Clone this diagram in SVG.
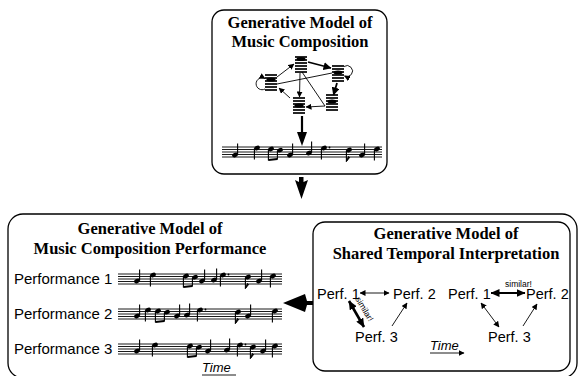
<svg xmlns="http://www.w3.org/2000/svg" xmlns:xlink="http://www.w3.org/1999/xlink" width="579" height="376" viewBox="0 0 579 376">
<style>
.box{fill:#fff;stroke:#000;stroke-width:1.3}
.ttl{font-family:"Liberation Serif","Times New Roman",serif;font-weight:bold;font-size:16.5px;text-anchor:middle;fill:#000}
.lbl{font-family:"Liberation Sans",Arial,sans-serif;font-size:15px;fill:#000}
.perf{font-family:"Liberation Sans",Arial,sans-serif;font-size:14.5px;fill:#000}
.sm{font-family:"Liberation Sans",Arial,sans-serif;font-size:8.5px;fill:#000}
.time{font-family:"Liberation Sans",Arial,sans-serif;font-size:13px;font-style:italic;fill:#000}
.st{stroke:#000;stroke-width:0.9}
.stem{stroke:#000;stroke-width:1.1}
.nl{stroke:#000;stroke-width:1.7}
.c{stroke:#000;stroke-width:0.9;fill:none}
.ck{stroke:#000;stroke-width:1.8;fill:none}
.cb{stroke:#000;stroke-width:2.6;fill:none}
</style>
<defs>
<marker id="ah" markerWidth="6" markerHeight="6" refX="5.5" refY="3" orient="auto" markerUnits="userSpaceOnUse"><path d="M0,0 L6,3 L0,6 Z" fill="#000"/></marker>
<marker id="ahs" markerWidth="6" markerHeight="6" refX="0.5" refY="3" orient="auto" markerUnits="userSpaceOnUse"><path d="M6,0 L0,3 L6,6 Z" fill="#000"/></marker>
<marker id="ahk" markerWidth="8" markerHeight="8" refX="7.5" refY="4" orient="auto" markerUnits="userSpaceOnUse"><path d="M0,0 L8,4 L0,8 Z" fill="#000"/></marker>
<marker id="ahb" markerWidth="9" markerHeight="8" refX="8.5" refY="4" orient="auto" markerUnits="userSpaceOnUse"><path d="M0,0 L9,4 L0,8 Z" fill="#000"/></marker>
<marker id="ahbs" markerWidth="9" markerHeight="8" refX="0.5" refY="4" orient="auto" markerUnits="userSpaceOnUse"><path d="M9,0 L0,4 L9,8 Z" fill="#000"/></marker>
<g id="staffT"><line class="st" x1="0" y1="0" x2="160" y2="0"/><line class="st" x1="0" y1="2.5" x2="160" y2="2.5"/><line class="st" x1="0" y1="5" x2="160" y2="5"/><line class="st" x1="0" y1="7.5" x2="160" y2="7.5"/><line class="st" x1="0" y1="10" x2="160" y2="10"/></g>
<g id="staffP"><line class="st" x1="0" y1="0" x2="164" y2="0"/><line class="st" x1="0" y1="2.5" x2="164" y2="2.5"/><line class="st" x1="0" y1="5" x2="164" y2="5"/><line class="st" x1="0" y1="7.5" x2="164" y2="7.5"/><line class="st" x1="0" y1="10" x2="164" y2="10"/></g>
<g id="qu"><ellipse cx="0" cy="0" rx="3" ry="2.1" transform="rotate(-25)"/><line class="stem" x1="2.6" y1="-0.5" x2="2.6" y2="-11.5"/></g>
<g id="qd"><ellipse cx="0" cy="0" rx="3" ry="2.1" transform="rotate(-25)"/><line class="stem" x1="-2.6" y1="0.5" x2="-2.6" y2="11.5"/></g>
<g id="e2"><ellipse cx="0" cy="0" rx="3" ry="2.1" transform="rotate(-25)"/><ellipse cx="9" cy="1.2" rx="3" ry="2.1" transform="rotate(-25 9 1.2)"/><line class="stem" x1="-2.6" y1="0.5" x2="-2.6" y2="11.5"/><line class="stem" x1="6.4" y1="1.7" x2="6.4" y2="10.5"/><line x1="-2.6" y1="11" x2="6.4" y2="10" stroke="#000" stroke-width="2"/></g>
<g id="ef"><ellipse cx="0" cy="0" rx="3" ry="2.1" transform="rotate(-25)"/><line class="stem" x1="-2.6" y1="0.5" x2="-2.6" y2="11.5"/><path d="M-2.6,11.5 L-0.5,6.5 L0.6,7.5 Z" fill="#000" stroke="#000" stroke-width="1"/></g>
<g id="nd"><line class="nl" x1="0" y1="0" x2="12" y2="0"/><line class="nl" x1="0" y1="3" x2="12" y2="3"/><line class="nl" x1="0" y1="6" x2="12" y2="6"/><line class="nl" x1="0" y1="9" x2="12" y2="9"/><line class="nl" x1="0" y1="12" x2="12" y2="12"/><line class="nl" x1="0" y1="15" x2="12" y2="15"/></g>
</defs>
<rect width="579" height="376" fill="#fff"/>

<!-- Top box -->
<g id="composition_model">
<rect class="box" x="212" y="10" width="175" height="164" rx="12"/>
<text class="ttl" x="300" y="28">Generative Model of</text>
<text class="ttl" x="300" y="47">Music Composition</text>
</g>

<g id="node_left"><use xlink:href="#nd" x="265" y="75"/><ellipse cx="271" cy="79.5" rx="4.5" ry="2" fill="#000"/></g>
<g id="node_top"><use xlink:href="#nd" x="295" y="57"/><ellipse cx="301" cy="59" rx="4.5" ry="2" fill="#000"/></g>
<g id="node_right"><use xlink:href="#nd" x="332" y="66"/><ellipse cx="338" cy="72.5" rx="4.5" ry="2" fill="#000"/></g>
<g id="node_bottom_mid"><use xlink:href="#nd" x="293" y="98"/><ellipse cx="299" cy="105.5" rx="4.5" ry="2" fill="#000"/></g>
<g id="node_bottom_right"><use xlink:href="#nd" x="326" y="95"/><ellipse cx="332" cy="101.5" rx="4.5" ry="2" fill="#000"/></g>

<g id="score_top">
<use xlink:href="#staffT" x="222" y="147"/>
<use xlink:href="#qu" x="235" y="155"/>
<use xlink:href="#qd" x="257" y="148"/>
<use xlink:href="#e2" x="271" y="149"/>
<use xlink:href="#qu" x="290" y="155"/>
<use xlink:href="#qu" x="309" y="153"/>
<use xlink:href="#qd" x="324" y="148"/><circle cx="329.5" cy="147.5" r="0.9"/>
<use xlink:href="#ef" x="349" y="150"/>
<use xlink:href="#qu" x="362" y="155"/>
<use xlink:href="#qd" x="377" y="149"/>
</g>

<!-- Bottom box -->
<g id="performance_model">
<rect class="box" x="8" y="214" width="569" height="164" rx="15"/>
<text class="ttl" x="150" y="234">Generative Model of</text>
<text class="ttl" x="150" y="254">Music Composition Performance</text>
</g>

<g id="performance1">
<text class="lbl" x="14" y="284">Performance 1</text>
<use xlink:href="#staffP" x="118" y="274"/>
<use xlink:href="#qu" x="137" y="281"/>
<use xlink:href="#qd" x="153" y="275"/>
<use xlink:href="#e2" x="186" y="276"/>
<use xlink:href="#qu" x="202" y="281"/>
<use xlink:href="#qu" x="214" y="280"/>
<use xlink:href="#qd" x="223" y="275"/><circle cx="228.5" cy="274.5" r="0.9"/>
<use xlink:href="#ef" x="248" y="277"/>
<use xlink:href="#qu" x="259" y="281"/>
<use xlink:href="#qd" x="273" y="276"/>
</g>

<g id="performance2">
<text class="lbl" x="14" y="319">Performance 2</text>
<use xlink:href="#staffP" x="118" y="309"/>
<use xlink:href="#qu" x="137" y="316"/>
<use xlink:href="#qd" x="148" y="310"/>
<use xlink:href="#e2" x="158" y="311"/>
<use xlink:href="#qu" x="177" y="316"/>
<use xlink:href="#qu" x="187" y="315"/>
<use xlink:href="#qd" x="200" y="310"/><circle cx="205.5" cy="309.5" r="0.9"/>
<use xlink:href="#ef" x="238" y="312"/>
<use xlink:href="#qu" x="248" y="316"/>
<use xlink:href="#qd" x="275" y="311"/>
</g>

<g id="performance3">
<text class="lbl" x="14" y="354">Performance 3</text>
<use xlink:href="#staffP" x="118" y="344"/>
<use xlink:href="#qu" x="137" y="351"/>
<use xlink:href="#qd" x="155" y="345"/>
<use xlink:href="#e2" x="190" y="346"/>
<use xlink:href="#qu" x="208" y="351"/>
<use xlink:href="#qu" x="227" y="350"/>
<use xlink:href="#qd" x="240" y="345"/><circle cx="245.5" cy="344.5" r="0.9"/>
<use xlink:href="#ef" x="253" y="347"/>
<use xlink:href="#qu" x="263" y="351"/>
<use xlink:href="#qd" x="275" y="346"/>
<text class="time" x="202" y="372">Time</text>
</g>

<!-- Inner box -->
<g id="shared_interpretation_model">
<rect class="box" x="313" y="222" width="257" height="149" rx="12"/>
<text class="ttl" x="446" y="239">Generative Model of</text>
<text class="ttl" x="446" y="259">Shared Temporal Interpretation</text>
<text class="time" x="430" y="350">Time</text>
</g>
<g id="perf1_a"><text class="perf" x="317" y="299">Perf. 1</text></g>
<g id="perf2_a"><text class="perf" x="393" y="299">Perf. 2</text></g>
<g id="perf3_a"><text class="perf" x="355" y="342">Perf. 3</text></g>
<g id="perf1_b"><text class="perf" x="448" y="299">Perf. 1</text></g>
<g id="perf2_b"><text class="perf" x="526" y="299">Perf. 2</text></g>
<g id="perf3_b"><text class="perf" x="488" y="342">Perf. 3</text></g>

<g id="connectors">
<!-- network in top box -->
<line class="c" x1="277" y1="77" x2="294" y2="64" marker-end="url(#ah)"/>
<line class="ck" x1="308" y1="62" x2="331" y2="68" marker-end="url(#ahk)"/>
<line class="c" x1="277" y1="84" x2="332" y2="73"/>
<line class="c" x1="300" y1="73" x2="299.5" y2="97" marker-end="url(#ah)"/>
<line class="c" x1="302" y1="72" x2="325" y2="106"/>
<line class="c" x1="325" y1="106" x2="306" y2="107" marker-end="url(#ah)"/>
<line class="ck" x1="337" y1="83" x2="333.5" y2="95" marker-end="url(#ahk)"/>
<line class="c" x1="290" y1="98" x2="279" y2="88" marker-end="url(#ah)"/>
<path class="c" d="M265,89 A6,6 0 1,1 265,78.5" marker-end="url(#ah)"/>
<path class="c" d="M344,66.5 A5.5,5.5 0 1,1 344.5,76" marker-end="url(#ah)"/>
<!-- arrow in top box -->
<line x1="302" y1="116" x2="302" y2="134" stroke="#000" stroke-width="2.2"/>
<path d="M297,132 L307,132 L302,146 Z" fill="#000"/>
<!-- arrow between boxes -->
<path d="M299,177 L303.5,177 L303.5,182 L308,180 L301.5,199 L295,180 L299,182 Z" fill="#000"/>
<!-- arrow from inner box to left -->
<path d="M313,301 L307,301 L305,294 L283,303 L305,312 L307,305 L313,305 Z" fill="#000"/>
<!-- inner diagram -->
<line class="c" x1="360" y1="293" x2="389" y2="293" marker-start="url(#ahs)" marker-end="url(#ah)"/>
<line class="cb" x1="349" y1="301" x2="364" y2="327" marker-start="url(#ahbs)" marker-end="url(#ahb)"/>
<line class="c" x1="392" y1="326" x2="407" y2="303" marker-end="url(#ah)"/>
<line class="ck" x1="491" y1="293" x2="525" y2="293" marker-start="url(#ahbs)" marker-end="url(#ahb)"/>
<line class="c" x1="481" y1="303" x2="499" y2="327" marker-start="url(#ahs)" marker-end="url(#ah)"/>
<line class="c" x1="523" y1="326" x2="537" y2="304" marker-end="url(#ah)"/>
<!-- time arrows -->
<line class="c" x1="430" y1="353" x2="464" y2="353" marker-end="url(#ah)"/>
<line class="c" x1="202" y1="375" x2="236" y2="375"/>
</g>
<text class="sm" x="505" y="287">similar!</text>
<text class="sm" transform="translate(355,299) rotate(59)">similar!</text>
</svg>
